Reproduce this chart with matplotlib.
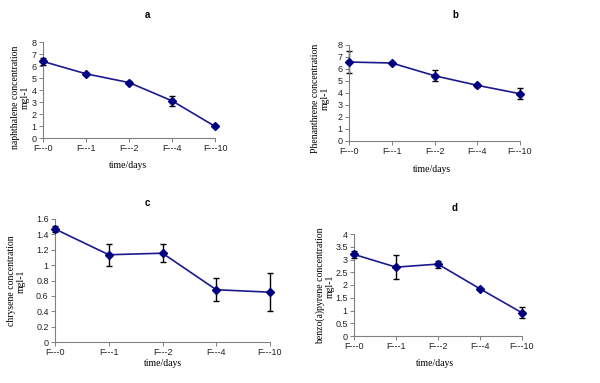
import matplotlib
matplotlib.use("Agg")
import matplotlib.pyplot as plt
from matplotlib.ticker import FuncFormatter, MultipleLocator

categories = ["F---0", "F---1", "F---2", "F---4", "F---10"]

naph_vals = [6.38, 5.35, 4.62, 3.10, 0.97]
naph_err = [0.28, 0.10, 0.10, 0.40, 0.05]

phen_vals = [6.58, 6.50, 5.44, 4.64, 3.94]
phen_err = [0.90, 0.10, 0.45, 0.10, 0.44]

chry_vals = [1.47, 1.135, 1.155, 0.68, 0.648]
chry_err = [0.04, 0.146, 0.12, 0.15, 0.25]

bap_vals = [3.20, 2.70, 2.82, 1.85, 0.91]
bap_err = [0.15, 0.48, 0.14, 0.05, 0.21]

titles = ["a", "b", "c", "d"]
ylabels = ["naphthalene concentration\nmgl-1",
           "Phenanthrene concentration\nmgl-1",
           "chrysene concentration\nmgl-1",
           "benzo(a)pyrene concentration\nmgl-1"]

W, H = 600, 383
fig = plt.figure(figsize=(6, 3.83), dpi=100)

def px_axes(l, r, t, b):
    return [l / W, 1 - b / H, (r - l) / W, (b - t) / H]

panels = [
    dict(box=(43, 215, 42, 138), vals=naph_vals, err=naph_err, ymax=8, step=1,
         title=(147, 15), xlab=(128, 165), ylab=(20, 97)),
    dict(box=(349, 520, 45, 141), vals=phen_vals, err=phen_err, ymax=8, step=1,
         title=(455, 15), xlab=(432, 169), ylab=(320, 98)),
    dict(box=(55, 270, 219, 342), vals=chry_vals, err=chry_err, ymax=1.6, step=0.2,
         title=(147, 203), xlab=(163, 364), ylab=(16, 281)),
    dict(box=(354, 522, 234, 336), vals=bap_vals, err=bap_err, ymax=4, step=0.5,
         title=(455, 208), xlab=(435, 363), ylab=(325, 286)),
]

fmt = FuncFormatter(lambda v, p: f"{v:g}")

for i, p in enumerate(panels):
    ax = fig.add_axes(px_axes(*p["box"]))
    x = list(range(len(categories)))
    cont = ax.errorbar(x, p["vals"], yerr=p["err"], fmt="none", ecolor="black",
                       elinewidth=1.0, capsize=2.5, capthick=1.0, zorder=2)
    for child in cont.get_children():
        child.set_clip_on(False)
    ax.plot(x, p["vals"], color="#1a1a8c", lw=1.2, marker="D", ms=3.8,
            mfc="#000080", mec="#000080", zorder=3, clip_on=False)
    ax.set_xlim(0, len(categories) - 1)
    ax.set_ylim(0, p["ymax"])
    ax.yaxis.set_major_locator(MultipleLocator(p["step"]))
    ax.yaxis.set_major_formatter(fmt)
    ax.set_xticks(x)
    ax.set_xticklabels(categories)
    for s in ["top", "right"]:
        ax.spines[s].set_visible(False)
    for s in ["left", "bottom"]:
        ax.spines[s].set_color("#808080")
        ax.spines[s].set_linewidth(0.8)
    ax.tick_params(axis="both", direction="out", length=3, width=0.7,
                   color="#808080", labelsize=6.5, pad=1.5, labelcolor="#222222")
    for lab in ax.get_xticklabels() + ax.get_yticklabels():
        lab.set_family("Liberation Sans")
    ax.patch.set_alpha(0)
    tx, ty = p["title"]
    fig.text(tx / W, 1 - ty / H, titles[i], ha="center", va="center",
             fontsize=7, fontweight="bold", family="Liberation Sans")
    xx, xy = p["xlab"]
    fig.text(xx / W, 1 - xy / H, "time/days", ha="center", va="center",
             fontsize=7, family="Liberation Serif")
    yx, yy = p["ylab"]
    fig.text(yx / W, 1 - yy / H, ylabels[i], ha="center", va="center",
             rotation=90, fontsize=7, family="Liberation Serif",
             linespacing=1.1, multialignment="center")

fig.savefig("out.png", dpi=100)
